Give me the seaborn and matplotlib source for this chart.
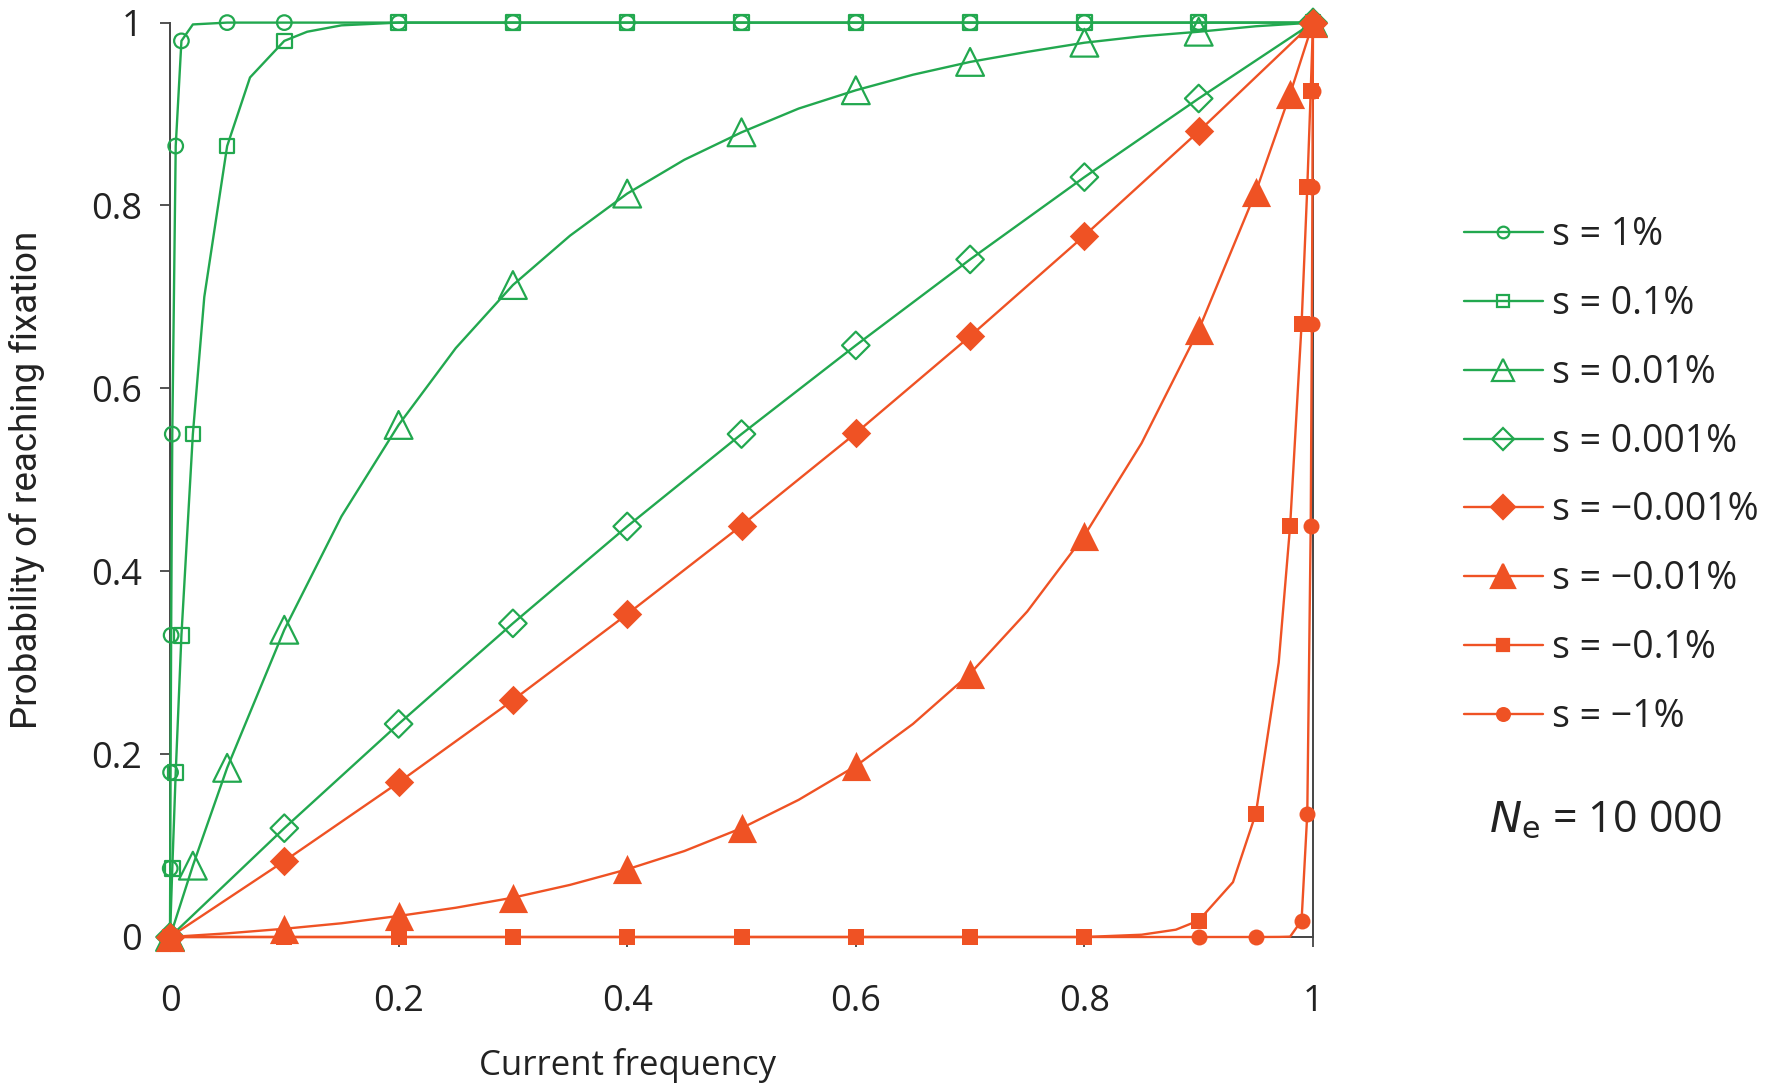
import matplotlib
matplotlib.use("Agg")
import matplotlib.pyplot as plt
import seaborn as sns
from matplotlib.lines import Line2D

# colours of the two families of curves
GREEN = "#22a84f"
RED = "#ef5224"

# s = 1%
s1_x = [0, 0.0002, 0.0005, 0.001, 0.002, 0.005, 0.01, 0.02, 0.05, 0.1, 0.2, 0.3, 0.4, 0.5, 0.6, 0.7, 0.8, 0.9, 1]
s1_y = [0, 0.075, 0.18, 0.33, 0.55, 0.865, 0.98, 0.998, 1, 1, 1, 1, 1, 1, 1, 1, 1, 1, 1]
s1_mk = [0, 0.0002, 0.0005, 0.001, 0.002, 0.005, 0.01, 0.05, 0.1, 0.2, 0.3, 0.4, 0.5, 0.6, 0.7, 0.8, 0.9, 1]

# s = 0.1%
s2_x = [0, 0.002, 0.005, 0.01, 0.02, 0.03, 0.05, 0.07, 0.1, 0.12, 0.15, 0.2, 0.3, 0.4, 0.5, 0.6, 0.7, 0.8, 0.9, 1]
s2_y = [0, 0.075, 0.18, 0.33, 0.55, 0.70, 0.865, 0.94, 0.98, 0.99, 0.997, 1, 1, 1, 1, 1, 1, 1, 1, 1]
s2_mk = [0, 0.002, 0.005, 0.01, 0.02, 0.05, 0.1, 0.2, 0.3, 0.4, 0.5, 0.6, 0.7, 0.8, 0.9, 1]

# s = 0.01%
s3_x = [0, 0.02, 0.05, 0.1, 0.15, 0.2, 0.25, 0.3, 0.35, 0.4, 0.45, 0.5, 0.55, 0.6, 0.65, 0.7, 0.75, 0.8, 0.85, 0.9, 0.95, 1]
s3_y = [0, 0.078, 0.185, 0.336, 0.46, 0.56, 0.644, 0.713, 0.767, 0.813, 0.85, 0.88, 0.906, 0.926, 0.943, 0.957, 0.968, 0.978, 0.985, 0.99, 0.996, 1]
s3_mk = [0, 0.02, 0.05, 0.1, 0.2, 0.3, 0.4, 0.5, 0.6, 0.7, 0.8, 0.9, 1]

# s = 0.001%
s4_x = [0, 0.1, 0.2, 0.3, 0.4, 0.5, 0.6, 0.7, 0.8, 0.9, 1]
s4_y = [0, 0.119, 0.233, 0.343, 0.449, 0.55, 0.647, 0.741, 0.831, 0.917, 1]
s4_mk = s4_x

# s = -0.001%
s5_x = [0, 0.1, 0.2, 0.3, 0.4, 0.5, 0.6, 0.7, 0.8, 0.9, 1]
s5_y = [0, 0.083, 0.169, 0.259, 0.353, 0.45, 0.551, 0.657, 0.767, 0.881, 1]
s5_mk = s5_x

# s = -0.01%
s6_x = [0, 0.05, 0.1, 0.15, 0.2, 0.25, 0.3, 0.35, 0.4, 0.45, 0.5, 0.55, 0.6, 0.65, 0.7, 0.75, 0.8, 0.85, 0.9, 0.95, 0.98, 1]
s6_y = [0, 0.004, 0.009, 0.015, 0.023, 0.032, 0.043, 0.057, 0.074, 0.094, 0.119, 0.15, 0.187, 0.233, 0.288, 0.356, 0.439, 0.54, 0.664, 0.815, 0.922, 1]
s6_mk = [0, 0.1, 0.2, 0.3, 0.4, 0.5, 0.6, 0.7, 0.8, 0.9, 0.95, 0.98, 1]

# s = -0.1%
s7_x = [0, 0.1, 0.2, 0.3, 0.4, 0.5, 0.6, 0.7, 0.8, 0.85, 0.88, 0.9, 0.93, 0.95, 0.97, 0.98, 0.99, 0.995, 0.998, 1]
s7_y = [0, 0, 0, 0, 0, 0, 0, 0, 0, 0.0025, 0.008, 0.018, 0.06, 0.135, 0.30, 0.45, 0.67, 0.82, 0.925, 1]
s7_mk = [0, 0.1, 0.2, 0.3, 0.4, 0.5, 0.6, 0.7, 0.8, 0.9, 0.95, 0.98, 0.99, 0.995, 0.998, 1]

# s = -1%
s8_x = [0, 0.9, 0.95, 0.97, 0.98, 0.99, 0.995, 0.998, 0.999, 0.9995, 0.9998, 1]
s8_y = [0, 0, 0, 0.0001, 0.0004, 0.018, 0.135, 0.45, 0.67, 0.82, 0.925, 1]
s8_mk = [0.9, 0.95, 0.99, 0.995, 0.998, 0.999, 0.9995, 0.9998, 1]

labels = ["s = 1%", "s = 0.1%", "s = 0.01%", "s = 0.001%",
          "s = \u22120.001%", "s = \u22120.01%", "s = \u22120.1%", "s = \u22121%"]

# (x, y, marked x, colour, marker, marker size in pt, filled)
series = [
    (s1_x, s1_y, s1_mk, GREEN, "o", 10.5, False),
    (s2_x, s2_y, s2_mk, GREEN, "s", 10.5, False),
    (s3_x, s3_y, s3_mk, GREEN, "^", 20, False),
    (s4_x, s4_y, s4_mk, GREEN, "D", 14, False),
    (s5_x, s5_y, s5_mk, RED, "D", 15, True),
    (s6_x, s6_y, s6_mk, RED, "^", 21, True),
    (s7_x, s7_y, s7_mk, RED, "s", 11, True),
    (s8_x, s8_y, s8_mk, RED, "o", 11.5, True),
]
# drawing order, red over green; circles and squares under triangles/diamonds
draw_order = [0, 1, 2, 3, 7, 6, 4, 5]

sns.set_style("white")
plt.rcParams["font.family"] = ["Open Sans", "DejaVu Sans"]

fig = plt.figure(figsize=(17.75, 10.86), dpi=100)
ax = fig.add_axes([170 / 1775, 1 - 937 / 1086, (1313 - 170) / 1775, (937 - 22.6) / 1086])

for z, i in enumerate(draw_order):
    xs, ys, mk, col, m, ms, filled = series[i]
    sns.lineplot(x=xs, y=ys, ax=ax, color=col, lw=1.7, sort=False, estimator=None,
                 clip_on=False, zorder=3 + 2 * z)
    mx = [x for x in xs if x in mk]
    my = [y for x, y in zip(xs, ys) if x in mk]
    sns.scatterplot(x=mx, y=my, ax=ax, marker=m, s=ms ** 2,
                    facecolor=col if filled else "none", edgecolor=col,
                    linewidth=0 if filled else 1.6, clip_on=False,
                    zorder=4 + 2 * z, legend=False)

ax.set_xlim(0, 1)
ax.set_ylim(0, 1)
ax.set_xticks([0, 0.2, 0.4, 0.6, 0.8, 1])
ax.set_xticklabels(["0", "0.2", "0.4", "0.6", "0.8", "1"])
ax.set_yticks([0, 0.2, 0.4, 0.6, 0.8, 1])
ax.set_yticklabels(["0", "0.2", "0.4", "0.6", "0.8", "1"])
ax.tick_params(axis="both", direction="out", length=7, width=1.3, color="#444444",
               labelsize=26, labelcolor="#222222", left=True, bottom=True)
ax.tick_params(axis="x", pad=27)
ax.tick_params(axis="y", pad=13)

for side in ["left", "bottom", "right"]:
    ax.spines[side].set_visible(True)
    ax.spines[side].set_color("#444444")
    ax.spines[side].set_linewidth(1.4)
ax.spines["top"].set_visible(False)

ax.set_xlabel("Current frequency", fontsize=25, color="#222222")
ax.xaxis.set_label_coords(0.40, -0.121)
ax.set_ylabel("Probability of reaching fixation", fontsize=26.5, color="#222222",
              family=["Roboto", "DejaVu Sans"])
ax.yaxis.set_label_coords(-0.109, 0.5)

handles = []
for xs, ys, mk, col, m, ms, filled in series:
    handles.append(Line2D([], [], color=col, lw=1.7, marker=m, markersize=ms * 0.8,
                          markerfacecolor=col if filled else "none",
                          markeredgecolor=col, markeredgewidth=1.6))
fig.legend(handles, labels, loc="center left", bbox_to_anchor=(1430 / 1775, 1 - 476 / 1086),
           frameon=False, fontsize=27, handlelength=2.1, handletextpad=0.25,
           labelspacing=0.82, labelcolor="#222222")

fig.text(1489 / 1775, 1 - 821 / 1086, r"$N_\mathrm{e}$ = 10 000", fontsize=31,
         color="#222222", va="center", ha="left")

fig.savefig("out.png", dpi=100)
